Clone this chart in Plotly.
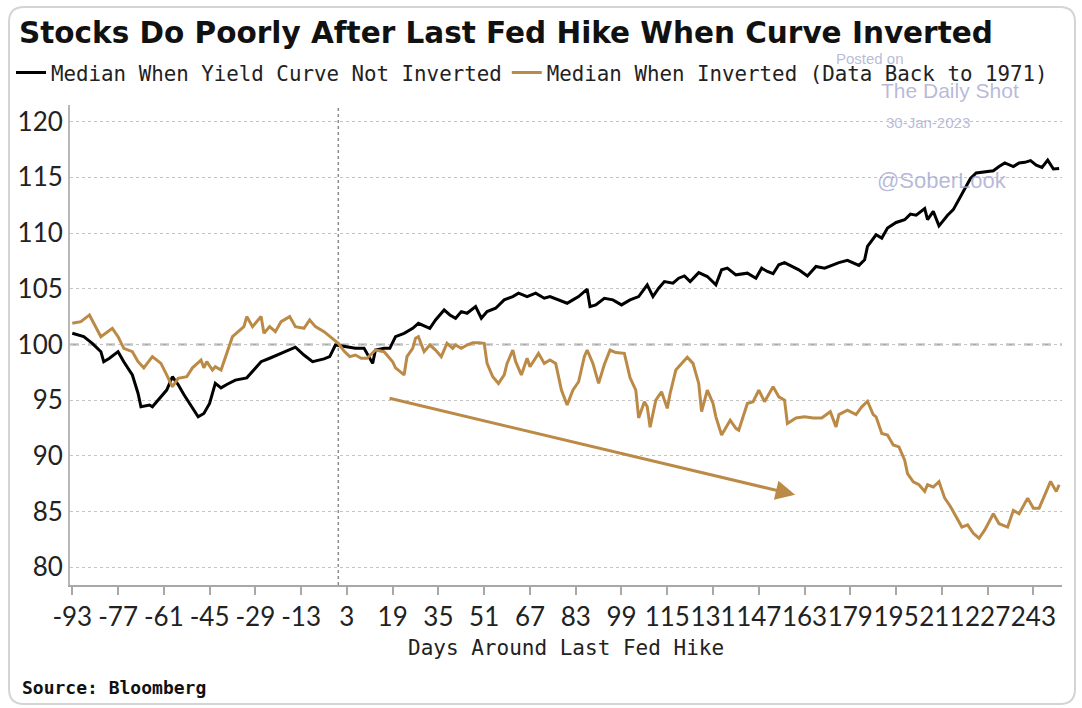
import plotly.graph_objects as go

# ---------------- data ----------------
days_not_inverted = [-93, -89, -86, -83, -82, -80, -77, -75, -72, -70, -69, -66, -65, -62, -60, -58,
                     -56, -54, -52, -49, -47, -45, -43, -41, -39, -36, -32, -30, -27, -24, -20, -17,
                     -15, -12, -9, -5, -3, -1, 3, 6, 9, 12, 13, 16, 18, 20, 23, 26, 28, 32, 34, 37,
                     39, 41, 43, 45, 48, 50, 52, 55, 58, 61, 63, 66, 69, 72, 74, 77, 80, 82, 84, 87,
                     88, 90, 93, 96, 99, 102, 105, 108, 110, 112, 114, 117, 119, 121, 123, 126, 129,
                     132, 134, 136, 139, 143, 146, 148, 150, 152, 154, 156, 159, 161, 164, 167, 170,
                     173, 175, 178, 180, 182, 184, 185, 188, 190, 192, 195, 198, 200, 202, 205, 206,
                     208, 210, 213, 215, 217, 219, 221, 223, 226, 229, 231, 233, 236, 238, 240, 242,
                     244, 246, 248, 249, 250, 252]
median_not_inverted = [101.0, 100.7, 100.1, 99.35, 98.45, 98.76, 99.35, 98.45, 97.26, 95.6, 94.4, 94.56,
                       94.4, 95.3, 95.9, 97.1, 96.4, 95.5, 94.7, 93.5, 93.8, 94.7, 96.5, 96.1, 96.4,
                       96.8, 97.0, 97.6, 98.45, 98.76, 99.2, 99.6, 99.75, 99.05, 98.45, 98.7, 98.9,
                       99.95, 99.8, 99.65, 99.65, 98.3, 99.5, 99.65, 99.65, 100.7, 101.0, 101.45,
                       101.9, 101.45, 102.2, 103.1, 102.65, 102.35, 102.95, 102.8, 103.4, 102.35,
                       102.95, 103.25, 104.0, 104.3, 104.6, 104.3, 104.6, 104.15, 104.3, 104.0, 103.7,
                       104.0, 104.3, 104.96, 103.4, 103.55, 104.15, 104.0, 103.55, 104.0, 104.3,
                       105.35, 104.3, 105.05, 105.65, 105.5, 105.95, 106.15, 105.65, 106.45, 106.1,
                       105.35, 106.7, 106.85, 106.25, 106.4, 105.95, 106.85, 106.55, 106.35, 107.15,
                       107.35, 107.0, 106.7, 106.15, 107.0, 106.85, 107.15, 107.35, 107.55, 107.3,
                       107.1, 107.6, 108.8, 109.85, 109.55, 110.45, 110.95, 111.2, 111.7, 111.6,
                       112.2, 111.2, 111.95, 110.65, 111.6, 112.1, 113.0, 113.9, 114.9, 115.4, 115.5,
                       115.6, 115.97, 116.3, 115.97, 116.3, 116.35, 116.5, 116.1, 115.9, 116.55,
                       116.1, 115.75, 115.8]

days_inverted = [-93, -90, -87, -85, -83, -79, -77, -75, -72, -70, -68, -65, -62, -60, -58, -56, -53,
                 -51, -48, -47, -46, -44, -43, -41, -39, -37, -35, -33, -32, -30, -27, -26, -24, -22,
                 -20, -17, -15, -12, -10, -8, -5, -2, 0, 2, 4, 6, 7, 8, 10, 13, 16, 19, 20, 23, 24,
                 26, 27, 28, 30, 32, 34, 36, 38, 40, 41, 43, 45, 47, 49, 51, 52, 54, 56, 58, 59, 61,
                 62, 64, 66, 67, 70, 72, 74, 76, 78, 80, 82, 84, 86, 87, 89, 91, 93, 95, 97, 100,
                 102, 104, 105, 107, 108, 109, 111, 113, 115, 116, 118, 120, 122, 124, 126, 127,
                 129, 131, 132, 134, 137, 139, 140, 143, 145, 147, 149, 152, 154, 156, 157, 160,
                 163, 166, 169, 172, 174, 175, 178, 181, 183, 185, 187, 188, 190, 192, 194, 196,
                 198, 199, 201, 203, 205, 206, 208, 210, 212, 214, 216, 218, 220, 222, 224, 226,
                 229, 231, 234, 236, 238, 241, 243, 245, 247, 249, 251, 252]
median_inverted = [101.9, 102.05, 102.65, 101.6, 100.7, 101.45, 100.7, 99.65, 99.35, 98.45, 97.9, 98.9,
                   98.3, 97.26, 96.2, 96.96, 97.1, 97.9, 98.6, 97.9, 98.45, 97.7, 98.0, 97.7, 99.2,
                   100.7, 101.15, 101.6, 102.5, 101.6, 102.5, 101.0, 101.6, 101.15, 102.05, 102.5,
                   101.6, 101.45, 102.2, 101.6, 101.15, 100.5, 100.1, 99.4, 98.9, 99.05, 98.9, 98.76,
                   98.76, 99.5, 99.35, 98.45, 97.9, 97.26, 98.9, 99.65, 100.55, 100.7, 99.35, 99.95,
                   99.5, 98.9, 100.1, 99.65, 99.95, 99.65, 99.95, 100.15, 100.15, 100.1, 98.3, 97.1,
                   96.5, 97.26, 98.3, 99.5, 98.45, 97.26, 98.76, 98.0, 99.2, 98.3, 98.6, 98.3, 95.9,
                   94.56, 95.9, 96.65, 98.9, 99.5, 98.3, 96.5, 98.2, 99.5, 99.27, 99.2, 97.0, 95.9,
                   93.4, 94.86, 94.4, 92.56, 95.0, 95.75, 94.26, 95.6, 97.7, 98.3, 98.85, 98.3, 96.5,
                   93.96, 95.9, 94.7, 93.5, 91.87, 93.2, 92.47, 92.3, 94.7, 94.86, 95.9, 94.86, 96.2,
                   95.3, 95.0, 92.9, 93.4, 93.5, 93.4, 93.4, 93.96, 92.6, 93.7, 94.1, 93.7, 94.4,
                   94.9, 93.7, 93.5, 92.0, 91.87, 90.97, 90.8, 89.6, 88.4, 87.67, 87.4, 86.8, 87.4,
                   87.2, 87.67, 86.2, 85.45, 84.5, 83.6, 83.8, 83.04, 82.6, 83.35, 84.8, 83.9, 83.6,
                   85.1, 84.8, 86.2, 85.3, 85.3, 86.5, 87.7, 86.8, 87.4]

x_tick_values = [-93, -77, -61, -45, -29, -13, 3, 19, 35, 51, 67, 83, 99, 115, 131, 147, 163, 179,
                 195, 211, 227, 243]
y_tick_values = [80, 85, 90, 95, 100, 105, 110, 115, 120]

# trend arrow (start and end, in data units)
arrow_start_day, arrow_start_value = 17.4, 95.2
arrow_end_day, arrow_end_value = 159.7, 86.5

# ---------------- style ----------------
GOLD = "#BC8A47"
BLACK = "#000000"
W, H = 1082, 708
ML, MR, MT, MB = 70, 20, 105, 123
PW, PH = W - ML - MR, H - MT - MB


def px_x(px):
    return (px - ML) / PW


def px_y(py):
    return (H - MB - py) / PH


fig = go.Figure()
fig.add_trace(go.Scatter(x=days_not_inverted, y=median_not_inverted, mode="lines",
                         name="Median When Yield Curve Not Inverted",
                         line=dict(color=BLACK, width=3)))
fig.add_trace(go.Scatter(x=days_inverted, y=median_inverted, mode="lines",
                         name="Median When Inverted (Data Back to 1971)",
                         line=dict(color=GOLD, width=3)))

# rounded card frame
x0, x1, y0, y1 = px_x(9), px_x(1075), px_y(704), px_y(7)
rx, ry = 15 / PW, 15 / PH
frame = (f"M {x0 + rx},{y1} L {x1 - rx},{y1} Q {x1},{y1} {x1},{y1 - ry} "
         f"L {x1},{y0 + ry} Q {x1},{y0} {x1 - rx},{y0} L {x0 + rx},{y0} "
         f"Q {x0},{y0} {x0},{y0 + ry} L {x0},{y1 - ry} Q {x0},{y1} {x0 + rx},{y1} Z")

shapes = [
    dict(type="path", xref="paper", yref="paper", path=frame,
         line=dict(color="#d4d4d4", width=2), layer="below"),
    dict(type="line", xref="paper", yref="y", x0=0, x1=1, y0=100, y1=100,
         line=dict(color="#a6a6a6", width=2, dash="dash"), layer="between"),
    dict(type="line", xref="x", yref="paper", x0=0, x1=0, y0=0, y1=1,
         line=dict(color="#8c8c8c", width=1.5, dash="dot"), layer="between"),
]

WM = "rgba(160,164,205,0.75)"
annotations = [
    dict(text="<b>Stocks Do Poorly After Last Fed Hike When Curve Inverted</b>",
         xref="paper", yref="paper", x=px_x(17), y=px_y(33), xanchor="left", yanchor="middle",
         showarrow=False, font=dict(family="DejaVu Sans", size=29.5, color="#111111")),
    dict(text="Days Around Last Fed Hike", xref="paper", yref="paper", x=0.5, y=px_y(648),
         xanchor="center", yanchor="middle", showarrow=False,
         font=dict(family="DejaVu Sans Mono", size=21, color="#222222")),
    dict(text="<b>Source: Bloomberg</b>", xref="paper", yref="paper", x=px_x(20), y=px_y(687),
         xanchor="left", yanchor="middle", showarrow=False,
         font=dict(family="DejaVu Sans Mono", size=18, color="#111111")),
    # watermark
    dict(text="Posted on", xref="paper", yref="paper", x=px_x(870), y=px_y(58),
         xanchor="center", yanchor="middle", showarrow=False,
         font=dict(family="Liberation Sans", size=15, color=WM)),
    dict(text="The Daily Shot", xref="paper", yref="paper", x=px_x(950), y=px_y(90),
         xanchor="center", yanchor="middle", showarrow=False,
         font=dict(family="Liberation Sans", size=21, color=WM)),
    dict(text="30-Jan-2023", xref="paper", yref="paper", x=px_x(928), y=px_y(123),
         xanchor="center", yanchor="middle", showarrow=False,
         font=dict(family="Liberation Sans", size=15, color=WM)),
    dict(text="@SoberLook", xref="paper", yref="paper", x=px_x(942), y=px_y(180),
         xanchor="center", yanchor="middle", showarrow=False,
         font=dict(family="Liberation Sans", size=22, color=WM)),
    # trend arrow
    dict(x=arrow_end_day, y=arrow_end_value, ax=arrow_start_day, ay=arrow_start_value,
         xref="x", yref="y", axref="x", ayref="y", text="", showarrow=True,
         arrowhead=2, arrowsize=1.3, arrowwidth=3, arrowcolor=GOLD, standoff=0),
]

fig.update_layout(
    width=W, height=H,
    margin=dict(l=ML, r=MR, t=MT, b=MB, pad=0, autoexpand=False),
    paper_bgcolor="white", plot_bgcolor="white",
    showlegend=True,
    legend=dict(orientation="h", x=px_x(11), y=px_y(73), xanchor="left", yanchor="middle",
                font=dict(family="DejaVu Sans Mono", size=20.8, color="#222222"),
                bgcolor="rgba(0,0,0,0)", itemwidth=30, tracegroupgap=0),
    shapes=shapes,
    annotations=annotations,
    xaxis=dict(range=[-93.8, 253], tickmode="array", tickvals=x_tick_values,
               ticktext=[str(v) for v in x_tick_values], tickangle=0, automargin=False,
               showgrid=False, zeroline=False, showline=True, linecolor="#a8a8a8", linewidth=2,
               ticks="outside", ticklen=8, tickcolor="#a8a8a8", tickwidth=1.5,
               tickfont=dict(family="Lato", size=26, color="#222222")),
    yaxis=dict(range=[78.4, 121.5], tickmode="array", tickvals=y_tick_values, automargin=False,
               showgrid=True, gridcolor="#c4c4c4", gridwidth=1.2, griddash="dot",
               zeroline=False, showline=True, linecolor="#b8b8b8", linewidth=2, ticks="",
               tickfont=dict(family="Lato", size=26, color="#222222")),
)

fig.write_html("out.html", config={"displayModeBar": False},
               post_script="document.body.style.margin='0px';document.body.style.overflow='hidden';")
